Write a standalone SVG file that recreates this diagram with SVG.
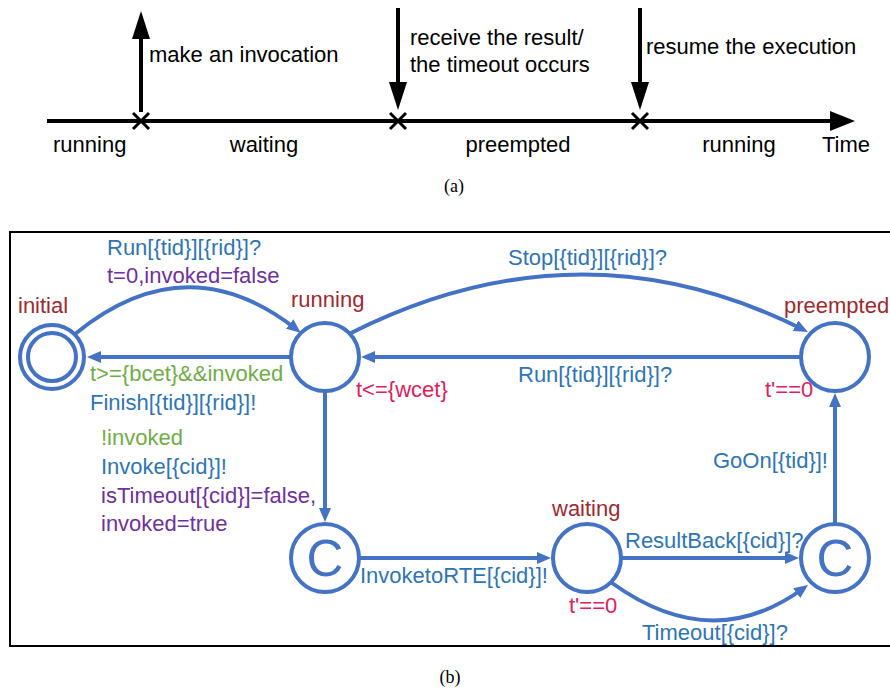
<svg xmlns="http://www.w3.org/2000/svg" width="890" height="691" viewBox="0 0 890 691">
<style>
  text { font-family: "Liberation Sans", Arial, sans-serif; font-size: 22px; }
  .blk { fill: #000; }
  .cap { font-family: "Liberation Serif", "Times New Roman", serif; font-size: 18px; fill: #000; }
  .tl { stroke: #000; stroke-width: 4; fill: none; }
  .tx { stroke: #000; stroke-width: 3; fill: none; }
  .node { fill: #fff; stroke: #4472C4; stroke-width: 4; }
  .edge { fill: none; stroke: #4472C4; stroke-width: 4; }
  .name { fill: #9E2A2F; }
  .sync { fill: #2E75B6; }
  .upd { fill: #7030A0; }
  .grd { fill: #70AD47; }
  .inv { fill: #E0205A; }
  .ctext { font-size: 51px; fill: #4472C4; }
</style>
<defs>
  <marker id="ah" viewBox="0 0 14 12" markerWidth="14" markerHeight="12" refX="8" refY="6" orient="auto" markerUnits="userSpaceOnUse">
    <path d="M0,0 L14,6 L0,12 z" fill="#4472C4"/>
  </marker>
  <marker id="bh" viewBox="0 0 28 18" markerWidth="28" markerHeight="18" refX="2" refY="9" orient="auto" markerUnits="userSpaceOnUse">
    <path d="M0,0 L28,9 L0,18 z" fill="#000"/>
  </marker>
  <marker id="th" viewBox="0 0 25 20" markerWidth="25" markerHeight="20" refX="2" refY="10" orient="auto" markerUnits="userSpaceOnUse">
    <path d="M0,0 L25,10 L0,20 z" fill="#000"/>
  </marker>
</defs>

<!-- (a) timeline -->
<g id="timeline">
  <line class="tl" x1="47" y1="121" x2="832" y2="121" marker-end="url(#th)"/>
  <line class="tl" x1="141" y1="112" x2="141" y2="37" marker-end="url(#bh)"/>
  <line class="tl" x1="398" y1="8" x2="398" y2="84" marker-end="url(#bh)"/>
  <line class="tl" x1="640" y1="8" x2="640" y2="84" marker-end="url(#bh)"/>
  <path class="tx" d="M133,113 L149,129 M149,113 L133,129"/>
  <path class="tx" d="M390,113 L406,129 M406,113 L390,129"/>
  <path class="tx" d="M632,113 L648,129 M648,113 L632,129"/>
  <text class="blk" x="149" y="62">make an invocation</text>
  <text class="blk" x="410" y="45">receive the result/</text>
  <text class="blk" x="410" y="72">the timeout occurs</text>
  <text class="blk" x="646" y="54">resume the execution</text>
  <text class="blk" x="53" y="152">running</text>
  <text class="blk" x="264" y="152" text-anchor="middle">waiting</text>
  <text class="blk" x="518" y="152" text-anchor="middle">preempted</text>
  <text class="blk" x="739" y="152" text-anchor="middle">running</text>
  <text class="blk" x="846" y="152" text-anchor="middle">Time</text>
  <text class="cap" x="454" y="192" text-anchor="middle">(a)</text>
</g>

<!-- (b) frame -->
<rect x="10" y="232" width="900" height="414" fill="none" stroke="#000" stroke-width="2"/>
<text class="cap" x="450" y="683" text-anchor="middle">(b)</text>

<!-- connectors -->
<g id="connectors">
  <path class="edge" d="M75,334 Q186,243 296,329" marker-end="url(#ah)"/>
  <path class="edge" d="M291,357 L93,357" marker-end="url(#ah)"/>
  <path class="edge" d="M351,333 Q580,218 802.6,329.3" marker-end="url(#ah)"/>
  <path class="edge" d="M801,357 L367,357" marker-end="url(#ah)"/>
  <path class="edge" d="M325,391 L325,516" marker-end="url(#ah)"/>
  <path class="edge" d="M359,558 L545,558" marker-end="url(#ah)"/>
  <path class="edge" d="M621,558 L793,558" marker-end="url(#ah)"/>
  <path class="edge" d="M612,583 Q712,655 803.2,588.5" marker-end="url(#ah)"/>
  <path class="edge" d="M835,524 L835,399" marker-end="url(#ah)"/>

  <text class="sync" x="107" y="255">Run[{tid}][{rid}]?</text>
  <text class="upd" x="107" y="283">t=0,invoked=false</text>
  <text class="grd" x="90" y="381">t&gt;={bcet}&amp;&amp;invoked</text>
  <text class="sync" x="90" y="410">Finish[{tid}][{rid}]!</text>
  <text class="sync" x="508" y="265">Stop[{tid}][{rid}]?</text>
  <text class="sync" x="518" y="382">Run[{tid}][{rid}]?</text>
  <text class="grd" x="101" y="445">!invoked</text>
  <text class="sync" x="101" y="474">Invoke[{cid}]!</text>
  <text class="upd" x="101" y="503">isTimeout[{cid}]=false,</text>
  <text class="upd" x="101" y="531">invoked=true</text>
  <text class="sync" x="360" y="583">InvoketoRTE[{cid}]!</text>
  <text class="sync" x="625" y="548">ResultBack[{cid}]?</text>
  <text class="sync" x="642" y="640">Timeout[{cid}]?</text>
  <text class="sync" x="713" y="468">GoOn[{tid}]!</text>
</g>

<!-- nodes -->
<g id="initial">
  <circle class="node" cx="52" cy="357" r="32"/>
  <circle class="node" cx="52" cy="357" r="24"/>
  <text class="name" x="18" y="313">initial</text>
</g>
<g id="running">
  <circle class="node" cx="325" cy="357" r="34"/>
  <text class="name" x="291" y="307">running</text>
  <text class="inv" x="356" y="397">t&lt;={wcet}</text>
</g>
<g id="preempted">
  <circle class="node" cx="835" cy="357" r="34"/>
  <text class="name" x="784" y="313">preempted</text>
  <text class="inv" x="765" y="397">t'==0</text>
</g>
<g id="committed1">
  <circle class="node" cx="325" cy="558" r="34"/>
  <text class="ctext" x="325" y="576" text-anchor="middle">C</text>
</g>
<g id="waiting">
  <circle class="node" cx="587" cy="558" r="34"/>
  <text class="name" x="552" y="516">waiting</text>
  <text class="inv" x="569" y="613">t'==0</text>
</g>
<g id="committed2">
  <circle class="node" cx="835" cy="558" r="34"/>
  <text class="ctext" x="835" y="576" text-anchor="middle">C</text>
</g>
</svg>
